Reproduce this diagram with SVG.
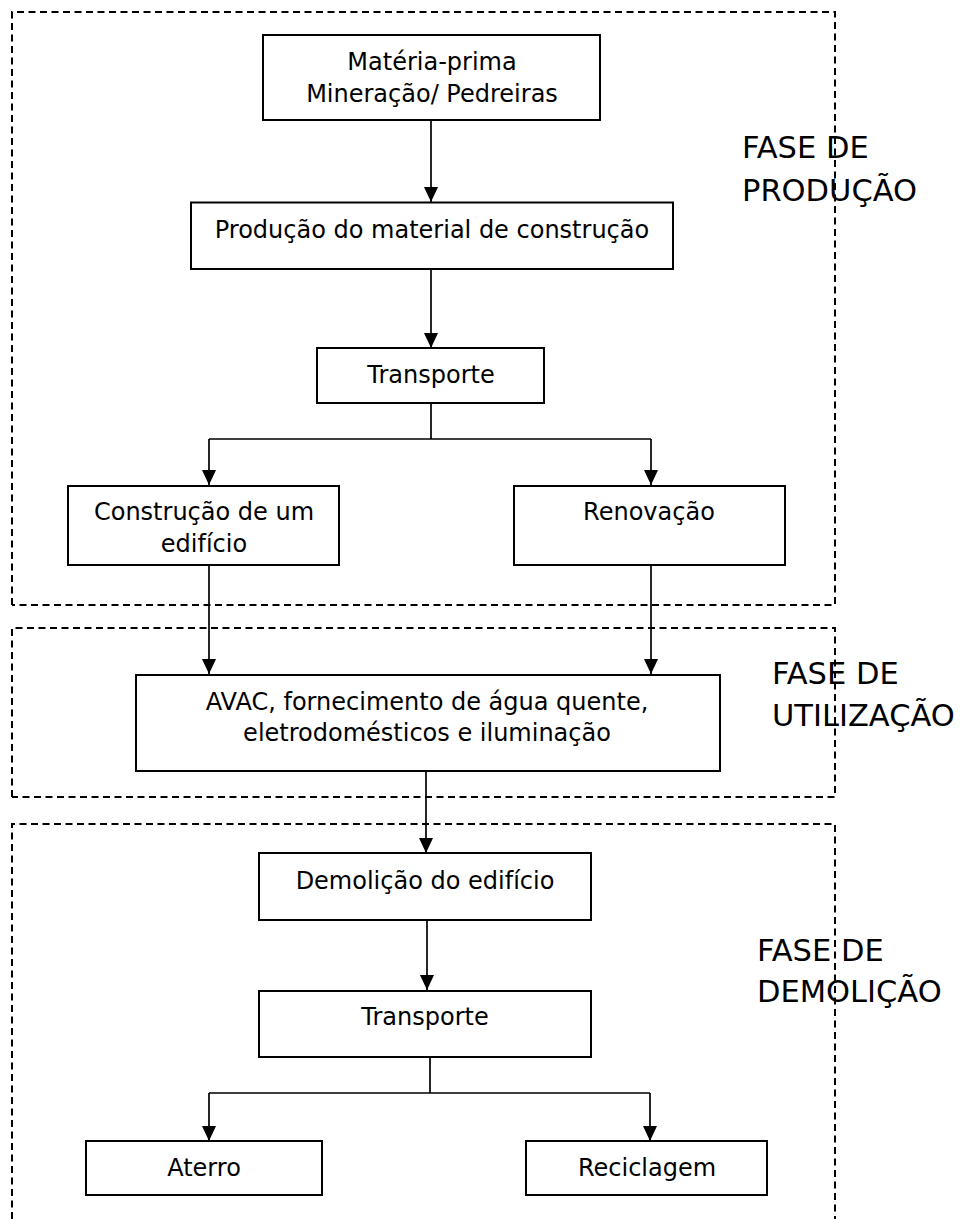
<svg xmlns="http://www.w3.org/2000/svg" width="968" height="1219" viewBox="0 0 968 1219">
<style>
.box{fill:#fff;stroke:#000;stroke-width:2}
.phase{fill:none;stroke:#000;stroke-width:2;stroke-dasharray:7 4.5}
.t{font-family:"DejaVu Sans",Verdana,sans-serif;font-size:24px;fill:#000;text-anchor:middle}
.ph{font-family:"DejaVu Sans",Verdana,sans-serif;font-size:30.5px;fill:#000}
.c{fill:none;stroke:#000;stroke-width:1.7}
</style>
<defs>
<marker id="ah" markerUnits="userSpaceOnUse" markerWidth="16" markerHeight="16" viewBox="0 0 16 16" refX="15" refY="8" orient="auto">
<path d="M0,1 L15,8 L0,15 Z" fill="#000"/>
</marker>
</defs>
<g id="phases">
<path class="phase" d="M12,605 V12 H835 V605 H12"/>
<path class="phase" d="M12,797 V628 H835 V797 H12"/>
<path class="phase" d="M12,1219 V824 H835 V1219"/>
</g>
<g id="phase-labels">
<text class="ph" x="742" y="158">FASE DE</text>
<text class="ph" x="742" y="201">PRODUÇÃO</text>
<text class="ph" x="772" y="684">FASE DE</text>
<text class="ph" x="772" y="726">UTILIZAÇÃO</text>
<text class="ph" x="757" y="961">FASE DE</text>
<text class="ph" x="757" y="1002">DEMOLIÇÃO</text>
</g>
<g id="connectors">
<path class="c" d="M431,120 V202" marker-end="url(#ah)"/>
<path class="c" d="M431,269 V348" marker-end="url(#ah)"/>
<path class="c" d="M431,403 V439 M209,439 H651"/>
<path class="c" d="M209,439 V485" marker-end="url(#ah)"/>
<path class="c" d="M651,439 V485" marker-end="url(#ah)"/>
<path class="c" d="M209,565 V674" marker-end="url(#ah)"/>
<path class="c" d="M651,565 V674" marker-end="url(#ah)"/>
<path class="c" d="M426,771 V853" marker-end="url(#ah)"/>
<path class="c" d="M427,920 V990" marker-end="url(#ah)"/>
<path class="c" d="M430,1057 V1093 M209,1093 H650"/>
<path class="c" d="M209,1093 V1141" marker-end="url(#ah)"/>
<path class="c" d="M650,1093 V1141" marker-end="url(#ah)"/>
</g>
<g id="n-materia">
<rect class="box" x="263" y="35" width="337" height="85"/>
<text class="t" x="432" y="70">Matéria-prima</text>
<text class="t" x="432" y="101.5">Mineração/ Pedreiras</text>
</g>
<g id="n-producao">
<rect class="box" x="191" y="202.5" width="482" height="66.5"/>
<text class="t" x="432" y="238">Produção do material de construção</text>
</g>
<g id="n-transporte1">
<rect class="box" x="317" y="348" width="227" height="55"/>
<text class="t" x="431" y="383">Transporte</text>
</g>
<g id="n-construcao">
<rect class="box" x="68" y="486" width="271" height="79"/>
<text class="t" x="204" y="520">Construção de um</text>
<text class="t" x="204" y="552">edifício</text>
</g>
<g id="n-renovacao">
<rect class="box" x="514" y="486" width="271" height="79"/>
<text class="t" x="649" y="520">Renovação</text>
</g>
<g id="n-avac">
<rect class="box" x="136" y="675" width="584" height="96"/>
<text class="t" x="427" y="710">AVAC, fornecimento de água quente,</text>
<text class="t" x="427" y="741">eletrodomésticos e iluminação</text>
</g>
<g id="n-demolicao">
<rect class="box" x="259" y="853" width="332" height="67"/>
<text class="t" x="425" y="889">Demolição do edifício</text>
</g>
<g id="n-transporte2">
<rect class="box" x="259" y="991" width="332" height="66"/>
<text class="t" x="425" y="1025">Transporte</text>
</g>
<g id="n-aterro">
<rect class="box" x="86" y="1141" width="236" height="54"/>
<text class="t" x="204" y="1176">Aterro</text>
</g>
<g id="n-reciclagem">
<rect class="box" x="526" y="1141" width="241" height="54"/>
<text class="t" x="647" y="1176">Reciclagem</text>
</g>
</svg>
